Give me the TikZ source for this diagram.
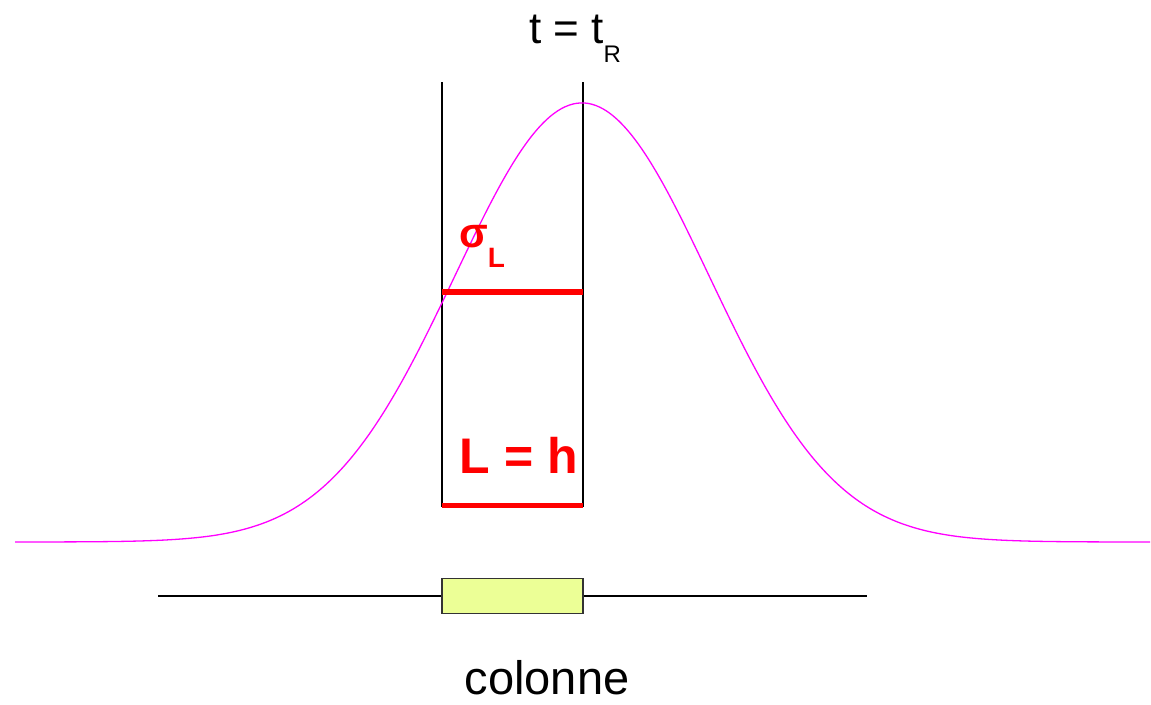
\documentclass[tikz,border=0pt]{standalone}
\usepackage{fontspec}
\setmainfont{Liberation Sans}
\definecolor{peakmag}{RGB}{255,0,255}
\definecolor{colfill}{RGB}{236,255,150}
\begin{document}
\begin{tikzpicture}[x=1pt,y=-1pt,
  wall/.style={black,line width=1.2pt},
  redbar/.style={red,line width=#1},
  curve/.style={peakmag,line width=1.3pt},
  colbox/.style={draw=black!80,line width=1.3pt,fill=colfill,minimum width=141pt,minimum height=35pt,inner sep=0pt},
  lbl/.style={inner sep=0pt,anchor=base}]
\useasboundingbox (0,0) rectangle (1151,704);
% column walls
\coordinate (wl1) at (442,82); \coordinate (wl2) at (442,507);
\coordinate (wr1) at (583,82); \coordinate (wr2) at (583,507);
\draw[wall] (wl1) -- (wl2);
\draw[wall] (wr1) -- (wr2);
% gaussian peak
\draw[curve] plot[domain=15:1150,samples=300,smooth] (\x,{542-439*exp(-0.5*((\x-582)/127)^2)});
% red bars
\coordinate (s1) at (442,292); \coordinate (s2) at (583,292);
\draw[redbar=6.5pt] (s1) -- (s2);
\coordinate (h1) at (442,505); \coordinate (h2) at (583,505);
\draw[redbar=5pt] (h1) -- (h2);
% column
\node[colbox] (col) at (512.5,596) {};
\coordinate (cl) at (158,596); \coordinate (cr) at (867,596);
\draw[black,line width=1.2pt] (cl) -- (col.west);
\draw[black,line width=1.2pt] (col.east) -- (cr);
% labels
\node[lbl] (tt) at (575,43) {\fontsize{44}{48}\selectfont t = t\raisebox{-19pt}{\fontsize{24}{26}\selectfont R}};
\node[lbl,text=red] (sig) at (482,247) {\fontsize{42}{44}\selectfont\bfseries σ\raisebox{-20pt}{\fontsize{28}{30}\selectfont\bfseries L}};
\node[lbl,text=red] (lh) at (519,473) {\fontsize{50}{54}\selectfont\bfseries L = h};
\node[lbl] (colname) at (547,694) {\fontsize{47}{50}\selectfont colonne};
\end{tikzpicture}
\end{document}
